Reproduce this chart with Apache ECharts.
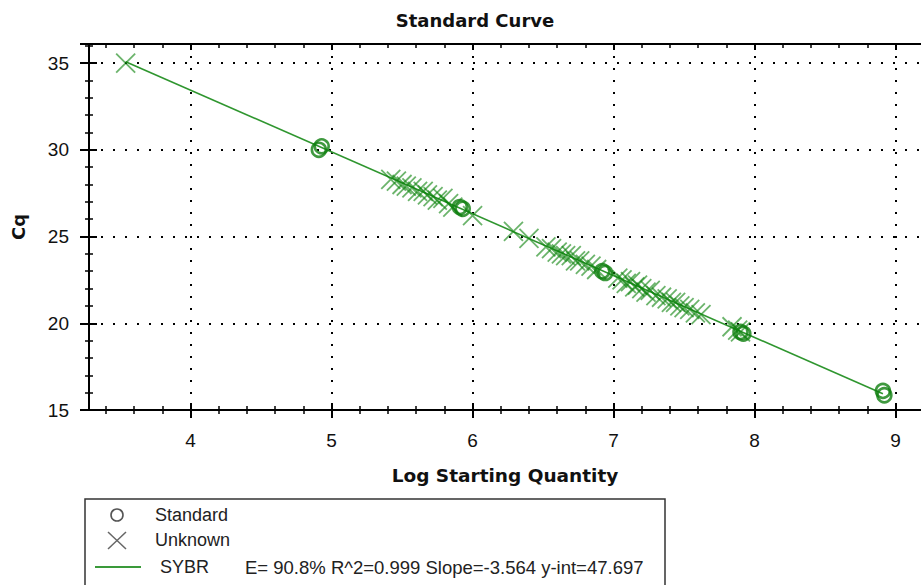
<!DOCTYPE html>
<html><head><meta charset="utf-8">
<script src="https://cdn.jsdelivr.net/npm/echarts@6/dist/echarts.min.js"></script>
<style>html,body{margin:0;padding:0;background:#fff}#c{width:921px;height:585px}</style>
</head><body><div id="c"></div>
<script>
const chartTitle = 'Standard Curve';
const xName = 'Log Starting Quantity';
const yName = 'Cq';
const xTickValues = [4, 5, 6, 7, 8, 9];
const xMinorTickValues = [3.4, 3.6, 3.8, 4.2, 4.4, 4.6, 4.8, 5.2, 5.4, 5.6, 5.8, 6.2, 6.4, 6.6, 6.8, 7.2, 7.4, 7.6, 7.8, 8.2, 8.4, 8.6, 8.8];
const yTickStep = 5;

const standardX = [4.91, 4.93, 5.91, 5.93, 6.92, 6.94, 7.90, 7.92, 8.91, 8.92];
const standardY = [30.0, 30.2, 26.7, 26.6, 23.0, 22.9, 19.5, 19.4, 16.1, 15.85];

const unknownX = [3.54,
  5.42, 5.46, 5.50, 5.53, 5.57, 5.61, 5.65, 5.68, 5.72, 5.75, 5.79, 5.83, 5.86, 6.00,
  6.29, 6.40, 6.52, 6.56, 6.60, 6.63, 6.66, 6.70, 6.73, 6.76, 6.80, 6.84, 6.88,
  7.03, 7.06, 7.09, 7.12, 7.15, 7.17, 7.20, 7.23, 7.26, 7.30, 7.34, 7.38, 7.41, 7.44, 7.47, 7.50, 7.54, 7.58, 7.62,
  7.84, 7.88, 7.90];
const unknownY = [35.0,
  28.3, 28.2, 28.0, 27.9, 27.8, 27.6, 27.6, 27.4, 27.3, 27.1, 27.2, 26.9, 26.7, 26.2,
  25.3, 24.9, 24.4, 24.3, 24.1, 24.0, 23.9, 23.9, 23.6, 23.6, 23.4, 23.3, 23.1,
  22.6, 22.5, 22.3, 22.4, 22.1, 22.2, 22.0, 21.8, 21.9, 21.6, 21.5, 21.4, 21.2, 21.2, 21.0, 20.9, 20.8, 20.6, 20.5,
  19.8, 19.6, 19.5];

const fitX = [3.54, 8.91];
const fitY = [35.08, 15.94];

const legendLabels = ['Standard', 'Unknown', 'SYBR'];
const fitStats = 'E= 90.8% R^2=0.999 Slope=-3.564 y-int=47.697';

const XMIN = 3.28, XMAX = 9.18, YMIN = 15, YMAX = 36.1;
const zip = (a, b) => a.map((v, i) => [v, b[i]]);

const labelFont = 'Liberation Sans, Arial, sans-serif';
const boldFont = 'DejaVu Sans, sans-serif';
const dotted = { color: '#000', width: 2, type: [2, 10] };

function xAx(extra) {
  return Object.assign({
    type: 'value', gridIndex: 0, min: XMIN, max: XMAX, position: 'bottom',
    axisLine: { show: false }, axisLabel: { show: false }, splitLine: { show: false },
    axisTick: { show: false }
  }, extra);
}
function yAx(extra) {
  return Object.assign({
    type: 'value', gridIndex: 0, min: YMIN, max: YMAX, interval: yTickStep, position: 'left',
    axisLine: { show: false }, axisLabel: { show: false }, splitLine: { show: false },
    axisTick: { show: false }
  }, extra);
}

const chart = echarts.init(document.getElementById('c'), null, { renderer: 'svg' });
chart.setOption({
  animation: false,
  backgroundColor: '#fff',
  title: {
    text: chartTitle, left: 470, top: 6, textAlign: 'center',
    textStyle: { fontFamily: boldFont, fontWeight: 'bold', fontSize: 18, color: '#111' }
  },
  grid: { left: 89, right: -4, top: 44, bottom: 175, containLabel: false },
  xAxis: [
    xAx({
      name: xName, nameLocation: 'middle', nameGap: 56,
      nameTextStyle: { fontFamily: boldFont, fontWeight: 'bold', fontSize: 18.5, color: '#111' },
      axisLine: { show: true, onZero: false, lineStyle: { color: '#000', width: 2 } },
      axisTick: { show: true, customValues: xTickValues, length: 8, lineStyle: { color: '#000', width: 2 } },
      axisLabel: { show: true, customValues: xTickValues, margin: 21, fontFamily: labelFont, fontSize: 19, color: '#111' },
      splitLine: { show: true, lineStyle: dotted }
    }),
    xAx({ axisTick: { show: true, inside: true, customValues: xTickValues, length: 7, lineStyle: { color: '#000', width: 2 } } }),
    xAx({ axisTick: { show: true, customValues: xMinorTickValues, length: 4, lineStyle: { color: '#000', width: 1.5 } } }),
    xAx({ axisTick: { show: true, inside: true, customValues: xMinorTickValues, length: 4, lineStyle: { color: '#000', width: 1.5 } } }),
    xAx({ position: 'top',
      axisLine: { show: true, onZero: false, lineStyle: { color: '#000', width: 2 } },
      axisTick: { show: true, inside: true, customValues: xTickValues, length: 6, lineStyle: { color: '#000', width: 2 } } }),
    xAx({ position: 'top', axisTick: { show: true, inside: true, customValues: xMinorTickValues, length: 4, lineStyle: { color: '#000', width: 1.5 } } })
  ],
  yAxis: [
    yAx({
      name: yName, nameLocation: 'middle', nameGap: 62, nameRotate: 90,
      nameTextStyle: { fontFamily: boldFont, fontWeight: 'bold', fontSize: 18, color: '#111' },
      axisLine: { show: true, onZero: false, lineStyle: { color: '#000', width: 2 } },
      axisTick: { show: true, length: 9, lineStyle: { color: '#000', width: 2 } },
      minorTick: { show: true, splitNumber: 5, length: 4, lineStyle: { color: '#000', width: 1.5 } },
      axisLabel: { show: true, margin: 20, showMaxLabel: false, fontFamily: labelFont, fontSize: 19, color: '#111' },
      splitLine: { show: true, lineStyle: dotted }
    }),
    yAx({
      axisTick: { show: true, inside: true, length: 8, lineStyle: { color: '#000', width: 2 } },
      minorTick: { show: true, splitNumber: 5, length: 4, lineStyle: { color: '#000', width: 1.5 } }
    })
  ],
  series: [
    {
      name: legendLabels[2], type: 'line', data: zip(fitX, fitY), symbol: 'none', z: 3,
      lineStyle: { color: '#2f962f', width: 1.6 }
    },
    {
      name: legendLabels[1], type: 'scatter', data: zip(unknownX, unknownY), z: 4,
      symbol: 'path://M0,0L10,10M10,0L0,10', symbolSize: 19,
      itemStyle: { color: 'rgba(0,0,0,0)', borderColor: 'rgba(10,130,10,0.75)', borderWidth: 1.8 }
    },
    {
      name: legendLabels[0], type: 'scatter', data: zip(standardX, standardY), z: 5,
      symbol: 'circle', symbolSize: 14,
      itemStyle: { color: 'rgba(0,0,0,0)', borderColor: '#0f800f', borderWidth: 2.6 }
    }
  ],
  graphic: [
    { type: 'rect', shape: { x: 85, y: 499, width: 580, height: 100 }, style: { fill: 'none', stroke: '#333', lineWidth: 1.5 } },
    { type: 'circle', shape: { cx: 117, cy: 515, r: 6 }, style: { fill: 'none', stroke: '#555', lineWidth: 1.6 } },
    { type: 'polyline', shape: { points: [[108, 532], [126, 549]] }, style: { stroke: '#666', lineWidth: 1.5 } },
    { type: 'polyline', shape: { points: [[126, 532], [108, 549]] }, style: { stroke: '#666', lineWidth: 1.5 } },
    { type: 'line', shape: { x1: 95, y1: 567, x2: 141, y2: 567 }, style: { stroke: '#3a9a3a', lineWidth: 2 } },
    { type: 'text', x: 155, y: 515, style: { text: legendLabels[0], fontFamily: labelFont, fontSize: 18, fill: '#222', verticalAlign: 'middle' } },
    { type: 'text', x: 155, y: 540, style: { text: legendLabels[1], fontFamily: labelFont, fontSize: 18, fill: '#222', verticalAlign: 'middle' } },
    { type: 'text', x: 160, y: 567, style: { text: legendLabels[2], fontFamily: labelFont, fontSize: 18, fill: '#222', verticalAlign: 'middle' } },
    { type: 'text', x: 245, y: 567, style: { text: fitStats, fontFamily: labelFont, fontSize: 18.5, fill: '#222', verticalAlign: 'middle' } }
  ]
});
</script></body></html>
